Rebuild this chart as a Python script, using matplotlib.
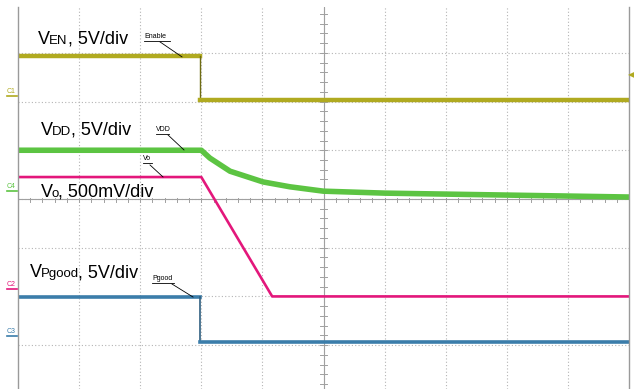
import matplotlib.pyplot as plt

plt.rcParams['font.family'] = ['Liberation Sans', 'DejaVu Sans']

# time axis in scope divisions (10 div across the screen)
t_step = [0.0, 2.98, 2.98, 10.0]

# trace levels in screen divisions (0 = centre line)
ven_div = [2.93, 2.93, 2.03, 2.03]
pgood_div = [-2.01, -2.01, -2.94, -2.94]

vdd_t = [0.0, 3.0, 3.14, 3.47, 4.01, 4.45, 5.0, 6.0, 7.0, 8.0, 9.0, 10.0]
vdd_div = [1.0, 1.0, 0.84, 0.57, 0.35, 0.25, 0.16, 0.12, 0.10, 0.08, 0.06, 0.04]

vo_t = [0.0, 3.0, 4.16, 10.0]
vo_div = [0.45, 0.45, -2.0, -2.0]

colors = {'en': '#b0aa20', 'vdd': '#5cc442', 'vo': '#e3177b', 'pg': '#3b7daa'}

PX_X0, PX_DIV_X = 18, 61.1
PX_Y0, PX_DIV_Y = 199, 48.7


def px(x, y):
    """Convert reference pixel position to division coordinates."""
    return (x - PX_X0) / PX_DIV_X, (PX_Y0 - y) / PX_DIV_Y


fig = plt.figure(figsize=(6.34, 3.89), dpi=100)
ax = fig.add_axes([18 / 634, 0, 611 / 634, 382 / 389])
ax.set_xlim(0, 10)
ax.set_ylim(-3.90, 3.94)
ax.set_xticks([])
ax.set_yticks([])
for s in ['top', 'bottom']:
    ax.spines[s].set_visible(False)
for s in ['left', 'right']:
    ax.spines[s].set_color('#9a9a9a')
    ax.spines[s].set_linewidth(1.0)

# graticule
for gx in range(1, 10):
    ax.axvline(gx, color='#b4b4b4', lw=0.8, ls=(0, (1, 2)), zorder=0)
for gy in range(-3, 4):
    ax.axhline(gy, color='#b4b4b4', lw=0.8, ls=(0, (1, 2)), zorder=0)
ax.axhline(0, color='#a0a0a0', lw=0.8, zorder=0)
ax.axvline(5, color='#a0a0a0', lw=0.8, zorder=0)
for i in range(1, 50):
    tx = i * 0.2
    ax.plot([tx, tx], [-0.07, 0.02], color='#a0a0a0', lw=0.7, zorder=0)
for i in range(-19, 20):
    ty = i * 0.2
    ax.plot([4.95, 5.05], [ty, ty], color='#a0a0a0', lw=0.7, zorder=0)

# traces
ax.plot(t_step[:2], ven_div[:2], color=colors['en'], lw=3.2)
ax.plot(t_step[1:3], ven_div[1:3], color='#6f6c12', lw=1.0)
ax.plot(t_step[2:], ven_div[2:], color=colors['en'], lw=3.2)
ax.plot(vdd_t, vdd_div, color=colors['vdd'], lw=4.0)
ax.plot(vo_t, vo_div, color=colors['vo'], lw=1.9)
ax.plot(t_step[:2], pgood_div[:2], color=colors['pg'], lw=2.6)
ax.plot(t_step[1:3], pgood_div[1:3], color='#2f5f80', lw=1.2)
ax.plot(t_step[2:], pgood_div[2:], color=colors['pg'], lw=2.6)

# main labels
ax.text(*px(38, 44), 'V', fontsize=13, ha='left', va='baseline')
ax.text(*px(49, 44), 'EN', fontsize=9.5, ha='left', va='baseline')
ax.text(*px(68, 44), ', 5V/div', fontsize=13, ha='left', va='baseline')

ax.text(*px(41, 135), 'V', fontsize=13, ha='left', va='baseline')
ax.text(*px(52, 135), 'DD', fontsize=9.5, ha='left', va='baseline')
ax.text(*px(71, 135), ', 5V/div', fontsize=13, ha='left', va='baseline')

ax.text(*px(41, 197), 'V', fontsize=13, ha='left', va='baseline')
ax.text(*px(52, 197), 'o', fontsize=9.5, ha='left', va='baseline')
ax.text(*px(58, 197), ', 500mV/div', fontsize=13, ha='left', va='baseline')

ax.text(*px(30, 277), 'V', fontsize=13, ha='left', va='baseline')
ax.text(*px(41, 277), 'Pgood', fontsize=9.5, ha='left', va='baseline')
ax.text(*px(78, 277), ', 5V/div', fontsize=13, ha='left', va='baseline')

# probe annotations
notes = [('Enable', 144, 38, 160, 42, 182, 57),
         ('VDD', 156, 131, 168, 135, 184, 150),
         ('Vo', 143, 160, 150, 165, 163, 177),
         ('Pgood', 152, 280, 172, 284, 193, 297)]
for txt, tx, ty, x1, y1, x2, y2 in notes:
    ax.text(*px(tx, ty), txt, fontsize=5, ha='left', va='baseline')
    w = len(txt) * 4.3
    ax.plot(*zip(px(tx, ty + 3), px(tx + w, ty + 3)), color='black', lw=0.6)
    ax.plot(*zip(px(x1, y1), px(x2, y2)), color='black', lw=0.6)

# channel markers on the left edge
markers = [('C1', 96, colors['en']), ('C4', 191, colors['vdd']),
           ('C2', 289, colors['vo']), ('C3', 336, colors['pg'])]
for name, y, c in markers:
    fig.text(7 / 634, 1 - (y - 3) / 389, name, fontsize=5, color=c, va='baseline')
    fig.lines.append(plt.Line2D([7 / 634, 17 / 634], [1 - y / 389] * 2,
                                transform=fig.transFigure, color=c, lw=1.2))

# trigger arrow on the right
fig.text(634 / 634, 1 - 77 / 389, '\u25c0', fontsize=6, color=colors['en'],
         ha='right', va='baseline')

fig.savefig('out.png', dpi=100)
